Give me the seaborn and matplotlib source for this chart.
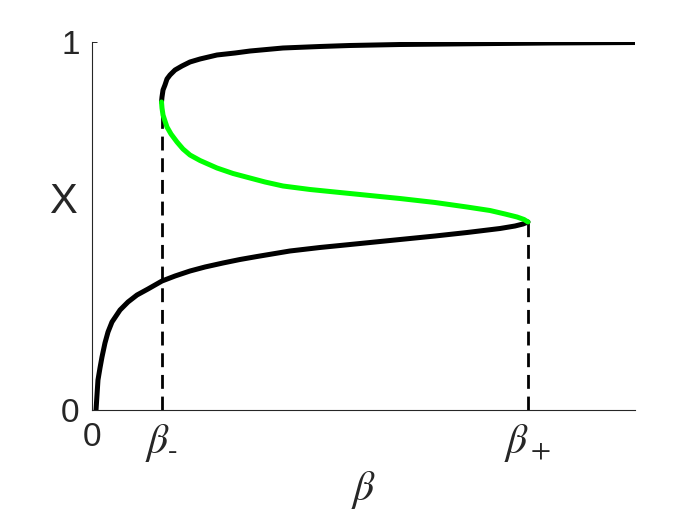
import matplotlib
matplotlib.use("Agg")
import matplotlib.pyplot as plt
import seaborn as sns
import pandas as pd

# Точки кривых (бета, X)
lower_beta = [0.0074, 0.0092, 0.0110, 0.0147, 0.0184, 0.0239, 0.0295, 0.0368,
              0.0516, 0.0663, 0.0829, 0.1031, 0.1289, 0.1529, 0.1805, 0.2081,
              0.2413, 0.2726, 0.3039, 0.3646, 0.4199, 0.4751, 0.5672, 0.6317,
              0.6906, 0.7514, 0.7790, 0.7937, 0.8029]
lower_x = [0.0, 0.0408, 0.0815, 0.1141, 0.1440, 0.1821, 0.2120, 0.2391,
           0.2717, 0.2935, 0.3125, 0.3288, 0.3505, 0.3641, 0.3777, 0.3886,
           0.3995, 0.4090, 0.4171, 0.4321, 0.4416, 0.4497, 0.4633, 0.4728,
           0.4823, 0.4932, 0.5000, 0.5054, 0.5109]

middle_beta = [0.1280, 0.1289, 0.1308, 0.1344, 0.1381, 0.1455, 0.1565, 0.1676,
               0.1805, 0.1989, 0.2302, 0.2597, 0.2910, 0.3186, 0.3517, 0.4015,
               0.4751, 0.5672, 0.6317, 0.6906, 0.7330, 0.7606, 0.7827, 0.7956,
               0.8029]
middle_x = [0.8370, 0.8207, 0.8016, 0.7853, 0.7690, 0.7500, 0.7283, 0.7092,
            0.6929, 0.6780, 0.6576, 0.6427, 0.6304, 0.6196, 0.6087, 0.5992,
            0.5883, 0.5747, 0.5639, 0.5516, 0.5421, 0.5326, 0.5245, 0.5177,
            0.5109]

upper_beta = [0.1280, 0.1289, 0.1308, 0.1344, 0.1381, 0.1436, 0.1529, 0.1657,
              0.1805, 0.1989, 0.2302, 0.2634, 0.2910, 0.3517, 0.4199, 0.4751,
              0.5672, 0.6906, 0.8435, 1.0]
upper_x = [0.8370, 0.8505, 0.8696, 0.8832, 0.8995, 0.9103, 0.9239, 0.9348,
           0.9457, 0.9538, 0.9647, 0.9701, 0.9755, 0.9837, 0.9878, 0.9905,
           0.9932, 0.9951, 0.9973, 0.9986]

beta_minus = 0.128
beta_plus = 0.803
x_at_minus = 0.837
x_at_plus = 0.511

xtick_labels = ["0", r"$\beta_{\text{-}}$", r"$\beta_+$"]
ytick_labels = ["0", "1"]

sns.set_style("ticks")
plt.rcParams["font.family"] = ["Liberation Sans", "DejaVu Sans"]
plt.rcParams["mathtext.fontset"] = "stix"

fig = plt.figure(figsize=(7, 5.25), dpi=100)
ax = fig.add_axes([92 / 700, 115 / 525, 543 / 700, 368 / 525])

# Пунктирные линии до точек поворота
dash = (0, (5, 2.8))
ax.plot([beta_minus, beta_minus], [0, x_at_minus], color="black", lw=2,
        linestyle=dash, zorder=1)
ax.plot([beta_plus, beta_plus], [0, x_at_plus], color="black", lw=2,
        linestyle=dash, zorder=1)

# Ветви кривой
for b, x, c in [(lower_beta, lower_x, "black"),
                (upper_beta, upper_x, "black"),
                (middle_beta, middle_x, "#00ff00")]:
    df = pd.DataFrame({"beta": b, "X": x})
    sns.lineplot(data=df, x="beta", y="X", sort=False, estimator=None,
                 color=c, lw=3.6, ax=ax, zorder=3,
                 solid_capstyle="round", solid_joinstyle="round")

ax.set_xlim(0, 1)
ax.set_ylim(0, 1)
ax.set_xticks([0, beta_minus, beta_plus])
ax.set_xticklabels(xtick_labels)
ax.set_yticks([0, 1])
ax.set_yticklabels(ytick_labels)

sns.despine(ax=ax)
for s in ["left", "bottom"]:
    ax.spines[s].set_color("#262626")
    ax.spines[s].set_linewidth(0.8)

ax.tick_params(direction="in", length=3.6, width=0.7, color="#262626",
               labelcolor="#262626", labelsize=24)
ax.tick_params(axis="x", pad=9)
ax.tick_params(axis="y", pad=9)
for lbl in ax.get_xticklabels()[1:]:
    lbl.set_fontsize(30)

ax.set_ylabel("X", fontsize=30, rotation=0, color="#262626")
ax.yaxis.set_label_coords(-0.053, 0.565)
ax.yaxis.label.set_va("center")
ax.yaxis.label.set_ha("center")

ax.set_xlabel(r"$\beta$", fontsize=30, color="#262626")
ax.xaxis.set_label_coords(0.5, -0.217)
ax.xaxis.label.set_va("center")

fig.savefig("out.png", dpi=100)
